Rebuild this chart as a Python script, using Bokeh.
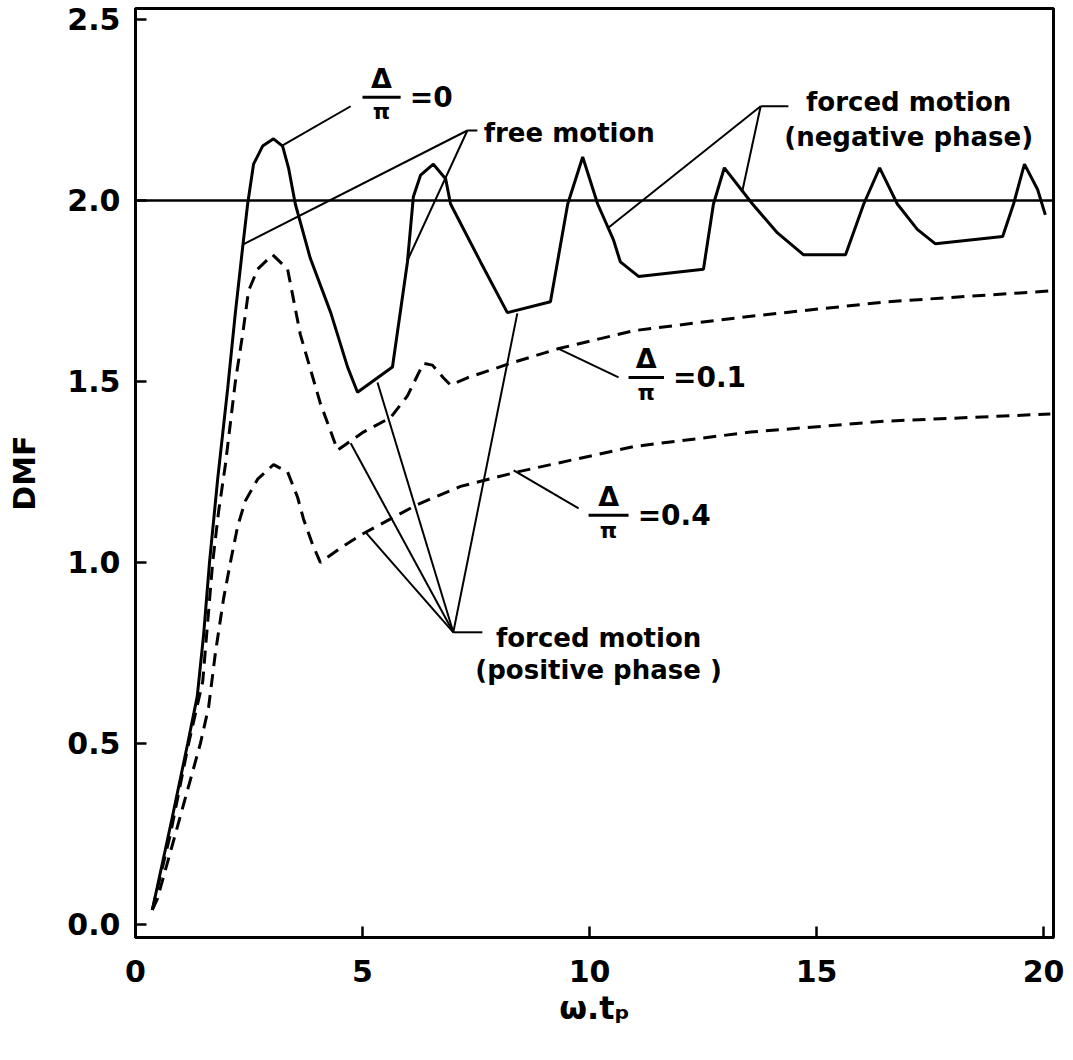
from bokeh.plotting import figure
from bokeh.models import Label, FixedTicker, NumeralTickFormatter, Span
from bokeh.embed import file_html
from bokeh.resources import INLINE

# ---- data ----
# Delta/pi = 0 (solid)
x_d0 = [0.37, 0.80, 1.15, 1.36, 1.50, 1.63, 1.81, 2.03, 2.20, 2.36, 2.47, 2.60, 2.80, 3.04, 3.24,
        3.37, 3.52, 3.85, 4.30, 4.67, 4.89, 5.66, 5.99, 6.12, 6.28, 6.56, 6.83, 6.94, 7.60, 8.19,
        9.14, 9.52, 9.85, 10.18, 10.53, 10.68, 11.08, 12.51, 12.73, 12.97, 13.59, 14.14, 14.71,
        15.64, 16.04, 16.39, 16.78, 17.22, 17.62, 19.10, 19.34, 19.58, 19.87, 20.04]
y_d0 = [0.04, 0.29, 0.50, 0.63, 0.80, 1.00, 1.23, 1.48, 1.69, 1.87, 1.99, 2.10, 2.15, 2.17, 2.15,
        2.09, 1.99, 1.84, 1.69, 1.54, 1.47, 1.54, 1.83, 2.01, 2.07, 2.10, 2.06, 1.99, 1.83, 1.69,
        1.72, 1.99, 2.12, 1.99, 1.89, 1.83, 1.79, 1.81, 1.99, 2.09, 1.99, 1.91, 1.85,
        1.85, 1.99, 2.09, 1.99, 1.92, 1.88, 1.90, 1.99, 2.10, 2.03, 1.96]

# Delta/pi = 0.1 (dashed)
x_d01 = [0.37, 0.77, 1.17, 1.48, 1.70, 1.83, 1.98, 2.20, 2.36, 2.49, 2.69, 3.02, 3.35, 3.63,
         4.07, 4.45, 5.02, 5.62, 5.99, 6.34, 6.54, 6.78, 6.94, 7.31, 8.26, 9.30, 10.97, 12.89,
         13.55, 16.56, 20.15]
y_d01 = [0.04, 0.25, 0.50, 0.67, 1.00, 1.14, 1.27, 1.50, 1.63, 1.75, 1.81, 1.85, 1.81, 1.63,
         1.44, 1.31, 1.36, 1.40, 1.46, 1.55, 1.545, 1.51, 1.49, 1.51, 1.55, 1.59, 1.64, 1.67,
         1.68, 1.72, 1.75]

# Delta/pi = 0.4 (dashed)
x_d04 = [0.37, 0.48, 0.88, 1.43, 1.61, 1.76, 1.94, 2.09, 2.25, 2.42, 2.69, 3.04, 3.35, 3.57,
         3.70, 3.90, 4.07, 4.52, 5.02, 6.21, 7.16, 8.41, 10.97, 13.55, 16.50, 20.15]
y_d04 = [0.04, 0.07, 0.25, 0.50, 0.60, 0.75, 0.90, 1.00, 1.10, 1.17, 1.23, 1.27, 1.25, 1.18,
         1.12, 1.05, 1.00, 1.04, 1.08, 1.16, 1.21, 1.25, 1.32, 1.36, 1.39, 1.41]

x_ticks = [0, 5, 10, 15, 20]
y_ticks = [0.0, 0.5, 1.0, 1.5, 2.0, 2.5]
ref_level = 2.0

# ---- annotation geometry (data coordinates) ----
leader_x0 = [3.24, 7.31, 7.31, 13.77, 13.77, 10.64, 9.76, 7.00, 7.00, 7.00, 7.00, 7.31, 13.77, 7.00]
leader_y0 = [2.152, 2.193, 2.193, 2.26, 2.26, 1.511, 1.149, 0.807, 0.807, 0.807, 0.807, 2.193, 2.26, 0.807]
leader_x1 = [4.74, 2.36, 5.99, 10.40, 13.37, 9.30, 8.33, 5.07, 4.74, 5.33, 8.41, 7.53, 14.38, 7.64]
leader_y1 = [2.26, 1.878, 1.834, 1.923, 2.028, 1.591, 1.254, 1.083, 1.329, 1.497, 1.688, 2.193, 2.26, 0.807]

FONT = "DejaVu Sans"

p = figure(width=1073, height=1060, x_range=(0, 20.22), y_range=(-0.036, 2.530),
           output_backend="svg", toolbar_location=None,
           min_border_left=135, min_border_right=20, min_border_top=8, min_border_bottom=123)
p.background_fill_color = "white"
p.border_fill_color = "white"
p.xgrid.visible = False
p.ygrid.visible = False
p.outline_line_color = "black"
p.outline_line_width = 3

for ax in (p.xaxis, p.yaxis):
    ax.axis_line_width = 3
    ax.axis_line_color = "black"
    ax.major_tick_in = 11
    ax.major_tick_out = 0
    ax.major_tick_line_width = 2.5
    ax.minor_tick_line_color = None
    ax.major_label_text_font = FONT
    ax.major_label_text_font_style = "bold"
    ax.major_label_text_font_size = "30px"
    ax.major_label_text_color = "black"
    ax.axis_label_text_font = FONT
    ax.axis_label_text_font_style = "bold"
    ax.axis_label_text_color = "black"

p.xaxis.ticker = FixedTicker(ticks=x_ticks)
p.yaxis.ticker = FixedTicker(ticks=y_ticks)
p.yaxis.formatter = NumeralTickFormatter(format="0.0")
p.xaxis.major_label_standoff = 22
p.yaxis.major_label_standoff = 15

p.yaxis.axis_label = "DMF"
p.yaxis.axis_label_text_font_size = "30px"
p.yaxis.axis_label_standoff = 22
p.xaxis.axis_label = "ω.tₚ"
p.xaxis.axis_label_text_font_size = "32px"
p.xaxis.axis_label_standoff = 4

p.add_layout(Span(location=ref_level, dimension="width", line_color="black", line_width=2.5))

p.line(x_d0, y_d0, line_color="black", line_width=3)
p.line(x_d01, y_d01, line_color="black", line_width=3, line_dash="13 8")
p.line(x_d04, y_d04, line_color="black", line_width=3, line_dash="13 8")

p.segment(x0=leader_x0, y0=leader_y0, x1=leader_x1, y1=leader_y1, line_color="black", line_width=2)


def lab(x, y, text, size="26px", align="left", baseline="alphabetic", style="bold"):
    p.add_layout(Label(x=x, y=y, text=text, text_font=FONT, text_font_style=style,
                       text_font_size=size, text_align=align, text_baseline=baseline,
                       text_color="black"))


def frac(xc, yc, rest, half_w):
    p.segment(x0=[xc - half_w], y0=[yc], x1=[xc + half_w], y1=[yc], line_color="black", line_width=3)
    lab(xc, yc + 0.010, "Δ", size="27px", align="center", baseline="bottom")
    lab(xc, yc - 0.006, "π", size="22px", align="center", baseline="top")
    lab(xc + half_w + 0.2, yc, rest, size="28px", align="left", baseline="middle")


frac(5.42, 2.285, "=0", 0.42)
frac(11.25, 1.511, "=0.1", 0.39)
frac(10.42, 1.130, "=0.4", 0.44)

lab(7.67, 2.185, "free motion")
lab(17.03, 2.271, "forced motion", align="center")
lab(17.03, 2.174, "(negative phase)", align="center")
lab(10.2, 0.79, "forced motion", align="center")
lab(10.2, 0.702, "(positive phase )", align="center")

open("out.html", "w").write(file_html(p, INLINE))
